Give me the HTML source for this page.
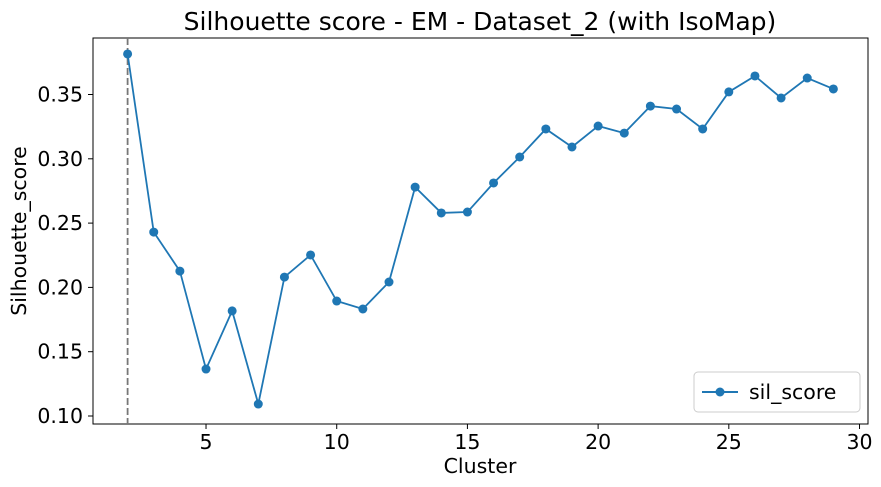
<!DOCTYPE html>
<html><head><meta charset="utf-8"><style>
body{margin:0;background:#fff;}
svg{display:block;font-family:"DejaVu Sans","Liberation Sans",sans-serif;}
</style></head><body>
<svg id="chart" width="881" height="487" viewBox="0 0 881 487">
<text x="480" y="30" font-size="25" text-anchor="middle" fill="#000">Silhouette score - EM - Dataset_2 (with IsoMap)</text>
<g id="grid"></g>
<rect x="93" y="38" width="775" height="386" fill="none" stroke="#000" stroke-width="1"/>
<text x="480" y="473" font-size="20.5" text-anchor="middle">Cluster</text>
<text transform="translate(26,231) rotate(-90)" font-size="20.5" text-anchor="middle">Silhouette_score</text>
<g>
<rect x="694" y="372" width="166" height="40" rx="4" fill="#fff" stroke="#ccc"/>
<line x1="702" y1="392" x2="738" y2="392" stroke="#1f77b4" stroke-width="2"/>
<circle cx="720" cy="392" r="4.5" fill="#1f77b4"/>
<text x="749" y="399" font-size="20.5">sil_score</text>
</g>
</svg>
<script>
const clusters=[2,3,4,5,6,7,8,9,10,11,12,13,14,15,16,17,18,19,20,21,22,23,24,25,26,27,28,29];
const silScores=[0.3815,0.243,0.2127,0.1365,0.1817,0.1093,0.208,0.2252,0.1894,0.1832,0.2042,0.278,0.2579,0.2586,0.2812,0.3014,0.3232,0.3092,0.3255,0.32,0.341,0.3387,0.3232,0.352,0.3644,0.3473,0.3628,0.3543];
const xTicks=[5,10,15,20,25,30];
const yTicks=[0.10,0.15,0.20,0.25,0.30,0.35];
const bestK=2;
const NS="http://www.w3.org/2000/svg";
const svg=document.getElementById('chart');
const g=document.getElementById('grid');
function xs(v){return 127.6+(v-2)*26.14;}
function ys(v){return 416-(v-0.10)*1286;}
function mk(t,a,p){const e=document.createElementNS(NS,t);for(const k in a)e.setAttribute(k,a[k]);(p||svg).appendChild(e);return e;}
xTicks.forEach(v=>{
 const t=mk('line',{x1:xs(v),x2:xs(v),y1:424,y2:429,stroke:'#000'},g);
 
 
 const l=mk('text',{x:xs(v),y:449,'font-size':20.5,'text-anchor':'middle'},g);
 l.textContent=v;
 
 
});
yTicks.forEach(v=>{
 const t=mk('line',{x1:88,x2:93,y1:ys(v),y2:ys(v),stroke:'#000'},g);
 
 
 const l=mk('text',{x:83,y:ys(v)+7,'font-size':20.5,'text-anchor':'end'},g);
 l.textContent=v.toFixed(2);
 
 
});
const vl=mk('line',{x1:xs(bestK),x2:xs(bestK),y1:38,y2:424,stroke:'#777','stroke-width':1.8,'stroke-dasharray':'7,3'});


const pl=mk('polyline',{points:clusters.map((c,i)=>xs(c)+','+ys(silScores[i])).join(' '),fill:'none',stroke:'#1f77b4','stroke-width':1.8});


clusters.forEach((c,i)=>{
 const p=mk('circle',{cx:xs(c),cy:ys(silScores[i]),r:4.5,fill:'#1f77b4'});
 
 
});
</script>
</body></html>
